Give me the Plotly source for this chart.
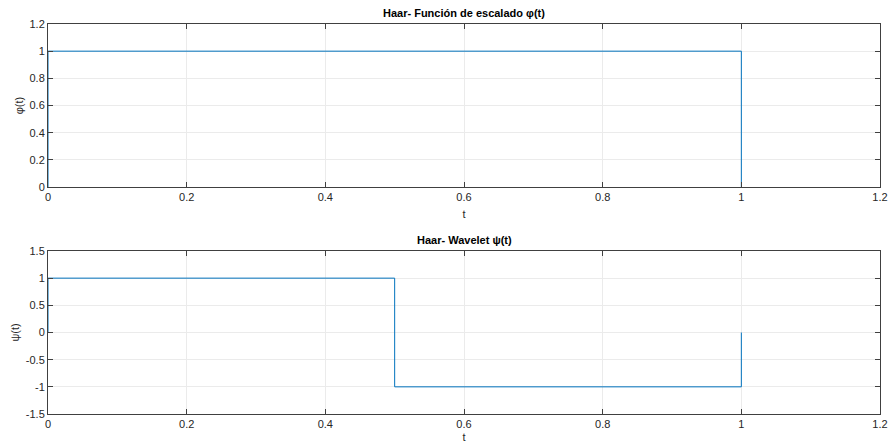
import plotly.graph_objects as go

# Data
t_phi = [0, 0, 1, 1]
phi = [0, 1, 1, 0]
t_psi = [0, 0, 0.5, 0.5, 1, 1]
psi = [0, 1, 1, -1, -1, 0]

x_ticks = [0, 0.2, 0.4, 0.6, 0.8, 1, 1.2]
x_tick_labels = ["0", "0.2", "0.4", "0.6", "0.8", "1", "1.2"]
y1_ticks = [0, 0.2, 0.4, 0.6, 0.8, 1, 1.2]
y1_tick_labels = ["0", "0.2", "0.4", "0.6", "0.8", "1", "1.2"]
y2_ticks = [-1.5, -1, -0.5, 0, 0.5, 1, 1.5]
y2_tick_labels = ["-1.5", "-1", "-0.5", "0", "0.5", "1", "1.5"]

title1 = "<b>Haar- Función de escalado φ(t)</b>"
title2 = "<b>Haar- Wavelet ψ(t)</b>"

blue = "#0072BD"
axc = "#404040"
gridc = "#ebebeb"
font = "Liberation Sans, Arial, sans-serif"

fig = go.Figure()
fig.add_trace(go.Scatter(x=t_phi, y=phi, mode="lines", line=dict(color=blue, width=1),
                         xaxis="x", yaxis="y", showlegend=False))
fig.add_trace(go.Scatter(x=t_psi, y=psi, mode="lines", line=dict(color=blue, width=1),
                         xaxis="x2", yaxis="y2", showlegend=False))

common_ax = dict(showline=True, linecolor=axc, linewidth=1, mirror="allticks",
                 ticks="inside", ticklen=5, tickcolor=axc, showgrid=True, gridcolor=gridc,
                 zeroline=False, automargin=False,
                 tickfont=dict(family=font, size=11, color="#262626"))

fig.update_layout(
    width=888, height=443,
    margin=dict(l=48, r=8, t=24, b=29),
    paper_bgcolor="white", plot_bgcolor="white",
    font=dict(family=font, size=11, color="#262626"),
    xaxis=dict(domain=[0, 1], anchor="y", range=[0, 1.2], tickvals=x_ticks, ticktext=x_tick_labels,
               title=dict(text="t", standoff=8, font=dict(size=11)), **common_ax),
    yaxis=dict(domain=[0.582, 1], anchor="x", range=[0, 1.2], tickvals=y1_ticks, ticktext=y1_tick_labels,
               title=dict(text="φ(t)", standoff=3, font=dict(size=11)), **common_ax),
    xaxis2=dict(domain=[0, 1], anchor="y2", range=[0, 1.2], tickvals=x_ticks, ticktext=x_tick_labels,
                title=dict(text="t", standoff=9, font=dict(size=11)), **common_ax),
    yaxis2=dict(domain=[0, 0.418], anchor="x2", range=[-1.5, 1.5], tickvals=y2_ticks, ticktext=y2_tick_labels,
                title=dict(text="ψ(t)", standoff=3, font=dict(size=11)), **common_ax),
    annotations=[
        dict(text=title1, x=0.5, xref="paper", y=1, yref="paper", yshift=3, showarrow=False,
             xanchor="center", yanchor="bottom", font=dict(family=font, size=11, color="#000000")),
        dict(text=title2, x=0.5, xref="paper", y=0.418, yref="paper", yshift=3, showarrow=False,
             xanchor="center", yanchor="bottom", font=dict(family=font, size=11, color="#000000")),
    ],
)

fig.write_html("out.html")
